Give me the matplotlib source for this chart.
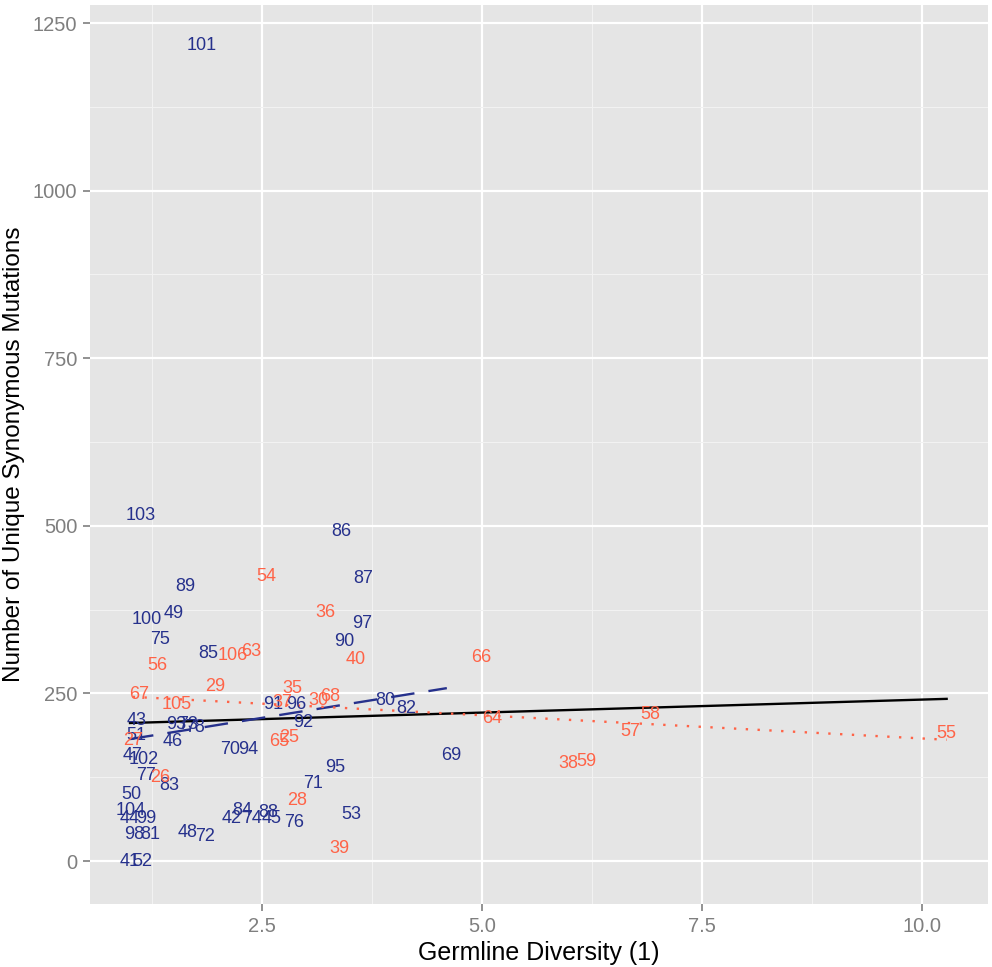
import matplotlib
matplotlib.use("Agg")
from matplotlib import pyplot as plt
from matplotlib.ticker import MultipleLocator

plt.rcParams['font.family'] = ['Liberation Sans', 'DejaVu Sans']

# group 1 (navy labels)
blue_ids = [101, 103, 86, 89, 87, 100, 49, 97, 75, 90, 85, 80, 82, 91, 96, 92,
            43, 93, 73, 78, 51, 46, 47, 102, 77, 83, 50, 104, 44, 99, 98, 81,
            48, 72, 41, 52, 70, 94, 95, 71, 76, 53, 69, 42, 74, 84, 88, 45]
blue_x = [1.81, 1.125, 3.40, 1.625, 3.65, 1.19, 1.50, 3.64, 1.34, 3.44, 1.89,
          3.90, 4.14, 2.625, 2.89, 2.97, 1.08, 1.52, 1.66, 1.74, 1.07, 1.48,
          1.03, 1.15, 1.18, 1.45, 1.01, 1.01, 1.00, 1.18, 1.045, 1.23, 1.65,
          1.85, 1.00, 1.14, 2.14, 2.34, 3.33, 3.08, 2.86, 3.52, 4.65, 2.15,
          2.39, 2.27, 2.57, 2.61]
blue_y = [1216, 515, 492, 410, 422, 361, 370, 354, 330, 328, 310, 240, 227,
          234, 234, 207, 209, 204, 204, 200, 188, 178, 158, 152, 128, 113, 100,
          75, 64, 63, 40, 40, 43, 36, 0, 0, 166, 166, 140, 116, 58, 69, 158,
          64, 64, 75, 72, 63]

# group 2 (orange labels)
orange_ids = [54, 36, 40, 56, 106, 63, 29, 35, 30, 68, 37, 67, 105, 66, 64,
              58, 57, 55, 38, 59, 65, 25, 26, 28, 39, 27]
orange_x = [2.545, 3.22, 3.56, 1.31, 2.17, 2.375, 1.97, 2.84, 3.14, 3.27, 2.73,
            1.10, 1.53, 4.99, 5.11, 6.91, 6.69, 10.28, 5.98, 6.19, 2.70, 2.81,
            1.34, 2.90, 3.375, 1.03]
orange_y = [425, 371, 301, 292, 306, 312, 261, 258, 240, 246, 237, 248, 233,
            304, 213, 219, 194, 191, 146, 149, 178, 185, 124, 90, 19, 180]

# fitted lines (end points)
fit_all_x = [1.0, 10.28]
fit_all_y = [206, 242]
fit_blue_x = [1.0, 4.6]
fit_blue_y = [182, 258]
fit_orange_x = [1.03, 10.28]
fit_orange_y = [245, 181]

blue = '#26318C'
orange = '#FF6347'

fig = plt.figure(figsize=(9.92, 9.67), dpi=100)
ax = fig.add_axes([90 / 992, 1 - 904 / 967, 898 / 992, 899 / 967])
ax.set_facecolor('#E5E5E5')

ax.set_xlim(0.545, 10.75)
ax.set_ylim(-64, 1277)

ax.xaxis.set_major_locator(MultipleLocator(2.5))
ax.xaxis.set_minor_locator(MultipleLocator(1.25))
ax.yaxis.set_major_locator(MultipleLocator(250))
ax.yaxis.set_minor_locator(MultipleLocator(125))
ax.grid(which='major', color='white', linewidth=1.6)
ax.grid(which='minor', color='#F2F2F2', linewidth=0.8)
ax.set_axisbelow(True)
for s in ax.spines.values():
    s.set_visible(False)
ax.tick_params(which='major', length=5, width=1.2, color='#7F7F7F',
               labelcolor='#7F7F7F', labelsize=14.5, pad=4)
ax.tick_params(which='minor', length=0)
ax.set_xticks([2.5, 5.0, 7.5, 10.0])
ax.set_xticklabels(['2.5', '5.0', '7.5', '10.0'])

for i, x, y in zip(blue_ids, blue_x, blue_y):
    ax.text(x, y, str(i), color=blue, fontsize=13, ha='center', va='center')
for i, x, y in zip(orange_ids, orange_x, orange_y):
    ax.text(x, y, str(i), color=orange, fontsize=13, ha='center', va='center')

ax.plot(fit_all_x, fit_all_y, color='black', linewidth=1.7)
ax.plot(fit_blue_x, fit_blue_y, color=blue, linewidth=1.7, dashes=(10, 6))
ax.plot(fit_orange_x, fit_orange_y, color=orange, linewidth=1.7,
        linestyle=(0, (1, 4)))

ax.set_xlabel('Germline Diversity (1)', fontsize=18, labelpad=4)
ax.set_ylabel('Number of Unique Synonymous Mutations', fontsize=17.5,
              labelpad=6)

fig.savefig('out.png', dpi=100)
